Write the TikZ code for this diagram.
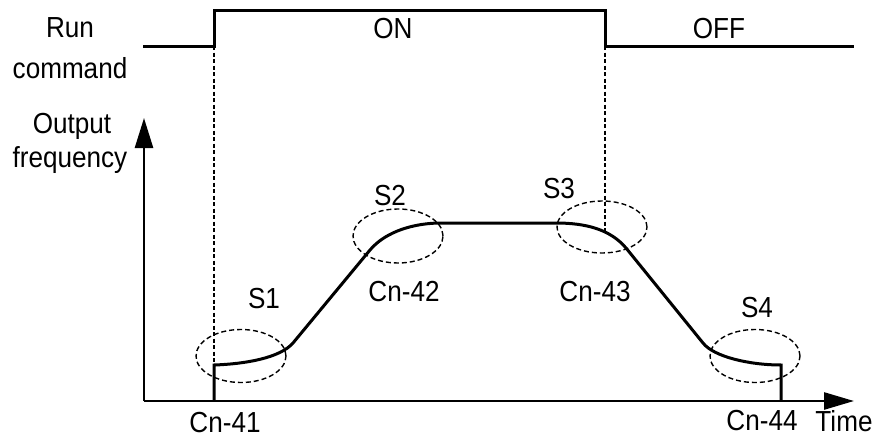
\documentclass[tikz,border=0pt]{standalone}
\usepackage{fontspec}
\setmainfont{Liberation Sans}[FakeStretch=0.9]
\usetikzlibrary{arrows.meta,shapes.geometric}
\begin{document}
\begin{tikzpicture}[x=1pt,y=-1pt,
  lbl/.style={anchor=base,inner sep=0pt,font=\fontsize{29}{33}\selectfont},
  thick line/.style={line width=3pt,line join=miter},
  axis/.style={line width=2.6pt},
  guide/.style={line width=1.1pt,dash pattern=on 4pt off 2.5pt},
  zone/.style={draw,ellipse,line width=1.4pt,dash pattern=on 5pt off 3pt,minimum width=90pt,inner sep=0pt}]
\useasboundingbox (0,0) rectangle (876,439);
% run command
\coordinate (r0) at (143,46);
\coordinate (r1) at (214,46);
\coordinate (r2) at (214,10);
\coordinate (r3) at (605,10);
\coordinate (r4) at (605,46);
\coordinate (r5) at (854,46);
\draw[thick line] (r0) -- (r1) -- (r2) -- (r3) -- (r4) -- (r5);
% axes
\coordinate (o) at (144,401);
\coordinate (ytip) at (144,118);
\coordinate (xtip) at (854,401);
\draw[axis,-{Triangle[length=30pt,width=18pt]}] (o) -- (ytip);
\draw[axis,-{Triangle[length=30pt,width=17pt]}] (o) -- (xtip);
% curve
\coordinate (c0) at (214,401);
\coordinate (c1) at (214,365);
\coordinate (c2) at (293,343);
\coordinate (c3) at (370,250);
\coordinate (c4) at (441,223);
\coordinate (c5) at (556,223);
\coordinate (c6) at (626,248);
\coordinate (c7) at (703,343);
\coordinate (c8) at (781,365);
\coordinate (c9) at (781,401);
\draw[thick line] (c0) -- (c1)
  .. controls (245,364) and (280,358) .. (c2)
  -- (c3)
  .. controls (386,231) and (415,223) .. (c4)
  -- (c5)
  .. controls (585,223) and (610,229) .. (c6)
  -- (c7)
  .. controls (714,357) and (750,365) .. (c8)
  -- (c9);
% guides
\draw[guide] (r1) -- (c1);
\coordinate (g3) at (605,233);
\draw[guide] (r4) -- (g3);
% zones
\node[zone,minimum height=53pt] (e1) at (241,356) {};
\node[zone,minimum height=54pt] (e2) at (398,236) {};
\node[zone,minimum height=52pt] (e3) at (602,227) {};
\node[zone,minimum height=53pt] (e4) at (755,356) {};
% labels
\node[lbl] (run) at (70,37) {Run};
\node[lbl] (cmd) at (70,78) {command};
\node[lbl] (out) at (72,133) {Output};
\node[lbl] (freq) at (70,167) {frequency};
\node[lbl] (on) at (393,38) {ON};
\node[lbl] (off) at (719,38) {OFF};
\node[lbl] (s1) at (264,308) {S1};
\node[lbl] (s2) at (390,205) {S2};
\node[lbl] (s3) at (559,198) {S3};
\node[lbl] (s4) at (757,317) {S4};
\node[lbl] (cn42) at (404,301) {Cn-42};
\node[lbl] (cn43) at (595,301) {Cn-43};
\node[lbl] (cn41) at (225,432) {Cn-41};
\node[lbl] (cn44) at (762,430) {Cn-44};
\node[lbl] (time) at (844,431) {Time};
\end{tikzpicture}
\end{document}
